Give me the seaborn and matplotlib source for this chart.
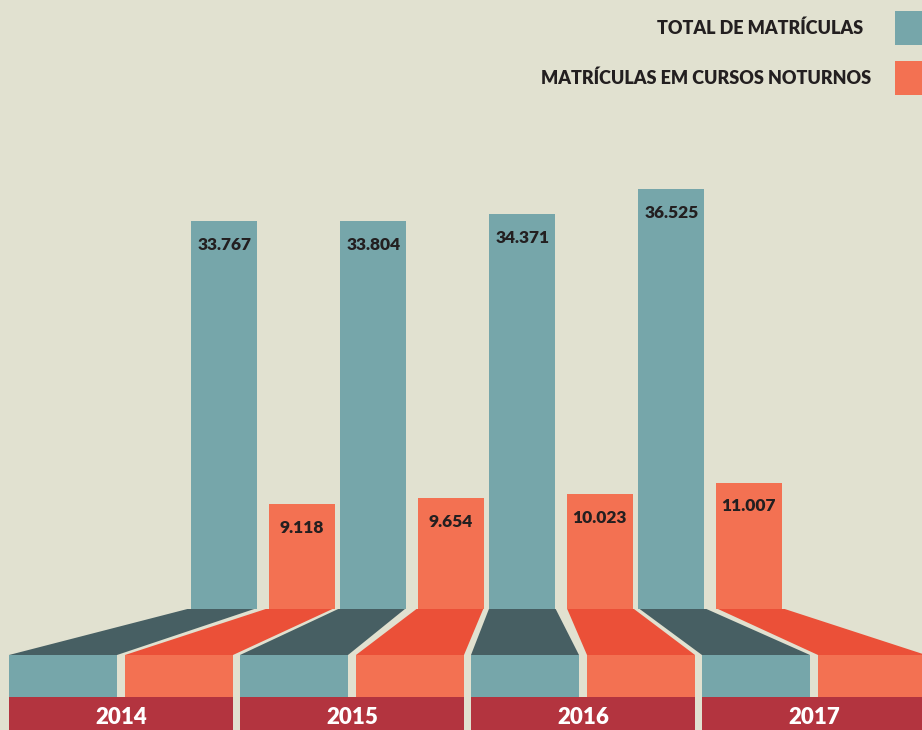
import pandas as pd
import seaborn as sns
import matplotlib.pyplot as plt
from matplotlib.patches import Rectangle, Polygon

# data
anos = ["2014", "2015", "2016", "2017"]
total = [33767, 33804, 34371, 36525]
noturnos = [9118, 9654, 10023, 11007]
series = ["TOTAL DE MATRÍCULAS", "MATRÍCULAS EM CURSOS NOTURNOS"]

bg = "#e1e1d0"
cores = ["#76a6aa", "#f37152"]      # bar faces
cores_base = ["#475f63", "#eb5038"]  # perspective floor
faixa = "#b3343f"
tinta = "#231f20"

df = pd.DataFrame({
    "ano": anos * 2,
    "valor": total + noturnos,
    "serie": [series[0]] * 4 + [series[1]] * 4,
})

sns.set_style("white")
plt.rcParams["font.family"] = ["Lato", "DejaVu Sans"]

W, H = 922, 730
base_px = 609  # row where bars end
fig = plt.figure(figsize=(W / 100, H / 100), dpi=100, facecolor=bg)

# main bar axes
ax = fig.add_axes([0, (H - base_px) / H, 1, base_px / H])
ax.set_facecolor("none")
sns.barplot(data=df, x="ano", y="valor", hue="serie", hue_order=series,
            palette=cores, saturation=1, width=1.04, gap=0.15, linewidth=0,
            legend=False, ax=ax)
ax.set_xlim(-1.765, 4.423)
ax.set_ylim(0, 53000)
ax.axis("off")

for cont in ax.containers:
    ax.bar_label(cont, labels=[f"{v:,.0f}".replace(",", ".") for v in cont.datavalues],
                 padding=-23, fontsize=12.5, fontweight="heavy", color=tinta)

# floor axes in pixel units
ax2 = fig.add_axes([0, 0, 1, (H - base_px) / H])
ax2.set_xlim(0, W)
ax2.set_ylim(H, base_px)
ax2.axis("off")

bars = sorted([p for p in ax.patches if p.get_height() > 0], key=lambda p: p.get_x())
to_px = ax2.transData.inverted()
band_w, band_step, band_x0 = 224, 231, 9
half_gap = 8
half_w = (band_w - half_gap) / 2
top_rect, bot_rect = 655, 697

for i, p in enumerate(bars):
    k, s = divmod(i, 2)
    x0 = to_px.transform(ax.transData.transform((p.get_x(), 0)))[0]
    x1 = to_px.transform(ax.transData.transform((p.get_x() + p.get_width(), 0)))[0]
    left = band_x0 + k * band_step + s * (half_w + half_gap)
    ax2.add_patch(Polygon([(x0, base_px - 1), (x1, base_px - 1),
                           (left + half_w, top_rect), (left, top_rect)],
                          closed=True, facecolor=cores_base[s], edgecolor="none"))
    ax2.add_patch(Rectangle((left, top_rect), half_w, bot_rect - top_rect,
                            facecolor=cores[s], edgecolor="none"))

for k, ano in enumerate(anos):
    left = band_x0 + k * band_step
    ax2.add_patch(Rectangle((left, bot_rect), band_w, H - bot_rect + 2,
                            facecolor=faixa, edgecolor="none"))
    ax2.text(left + band_w / 2, 717, ano, ha="center", va="center",
             fontsize=16, fontweight="heavy", color="white")

# legend
for j, nome in enumerate(series):
    yc = 28 + j * 50
    fig.text((863 + 8 * j) / W, 1 - yc / H, nome, ha="right", va="center",
             fontsize=13, fontweight="heavy", color=tinta)
    fig.add_artist(Rectangle((895 / W, 1 - (yc + 17) / H), 30 / W, 34 / H,
                             transform=fig.transFigure, facecolor=cores[j],
                             edgecolor="none"))

fig.savefig("out.png", dpi=100, facecolor=bg)
